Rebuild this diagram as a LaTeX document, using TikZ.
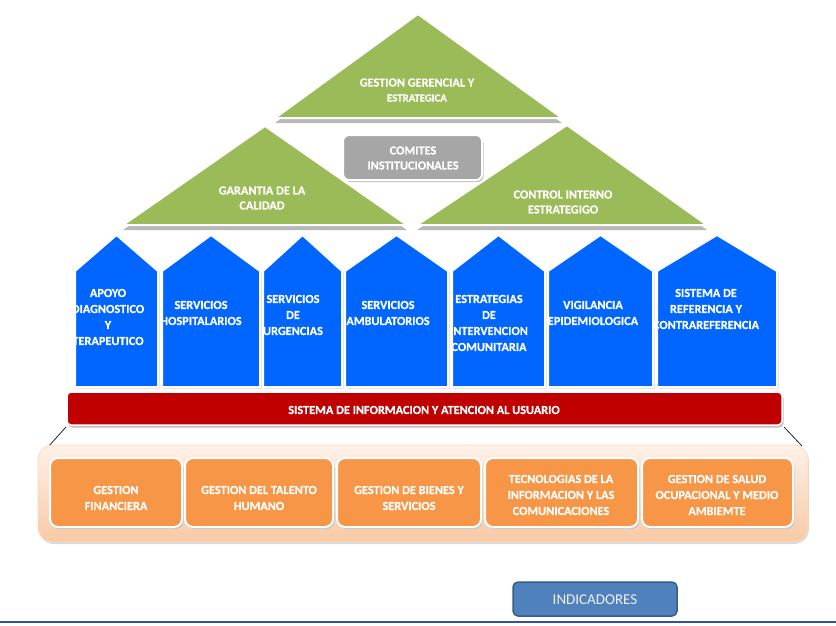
\documentclass[tikz,border=0pt]{standalone}
\usepackage{fontspec}
\setmainfont{Carlito}
\newfontfamily\calb{Carlito Bold}[FakeBold=0.4]
\usetikzlibrary{shadows}
\definecolor{gGreen}{HTML}{9BBB59}
\definecolor{bBlue}{HTML}{0066FF}
\definecolor{rRed}{HTML}{C00000}
\definecolor{oOrange}{HTML}{F79646}
\definecolor{iBlue}{HTML}{4F81BD}
\definecolor{iBorder}{HTML}{385D8A}
\definecolor{peachTop}{HTML}{FEF1E8}
\definecolor{peachBot}{HTML}{F8C9A6}
\definecolor{lineBlue}{HTML}{2F5597}
\begin{document}
\begin{tikzpicture}[x=1pt,y=-1pt,
  tri/.style={fill=gGreen, draw=white, line width=2pt, line join=miter,
    general shadow={fill=black!28, shadow yshift=-5pt}},
  pent/.style={fill=bBlue, draw=white, line width=2pt, line join=miter,
    general shadow={fill=black!18, shadow xshift=1.5pt, shadow yshift=-1.5pt}},
  gbox/.style={fill=black!35, draw=white, line width=2pt, rounded corners=6pt,
    general shadow={fill=black!25, shadow xshift=1.5pt, shadow yshift=-2pt}},
  obox/.style={fill=oOrange, draw=white, line width=2pt, rounded corners=8pt,
    general shadow={fill=black!22, shadow xshift=1.5pt, shadow yshift=-2pt}},
  txt/.style={text=white, font=\calb\fontsize{12.3}{16}\selectfont, align=center, inner sep=0pt},
  ttxt/.style={text=white, font=\calb\fontsize{12.3}{15}\selectfont, align=center, inner sep=0pt}
]
\useasboundingbox (0,0) rectangle (836,625);

% triangles
\draw[tri] (265,126) -- (407,225) -- (123,225) -- cycle;
\draw[tri] (567,125) -- (707,225) -- (417,225) -- cycle;
\draw[tri] (418,14) -- (562,118) -- (275,118) -- cycle;
\node[ttxt] (ggt) at (417,90) {GESTION GERENCIAL Y\\{\fontsize{10.8}{12}\selectfont ESTRATEGICA}};
\node[ttxt] (gct) at (262,198) {GARANTIA DE LA\\CALIDAD};
\node[ttxt] (cit) at (563,202) {CONTROL INTERNO\\ESTRATEGIGO};

% comites
\draw[gbox] (343,135) rectangle (482,180);
\node[ttxt] (com) at (413,158) {COMITES\\INSTITUCIONALES};

% pentagons
\foreach \l/\r in {75/158,162/260,263/342,345/448,452/545,548/653,657/777}{
  \draw[pent] (\l,271) -- ({(\l+\r)/2},235) -- (\r,271) -- (\r,387) -- (\l,387) -- cycle;
}
\node[txt] (p1) at (108,317) {APOYO\\DIAGNOSTICO\\Y\\TERAPEUTICO};
\node[txt] (p2) at (201,313) {SERVICIOS\\HOSPITALARIOS};
\node[txt] (p3) at (293,315) {SERVICIOS\\DE\\URGENCIAS};
\node[txt] (p4) at (388,313) {SERVICIOS\\AMBULATORIOS};
\node[txt] (p5) at (489,323) {ESTRATEGIAS\\DE\\INTERVENCION\\COMUNITARIA};
\node[txt] (p6) at (593,313) {VIGILANCIA\\EPIDEMIOLOGICA};
\node[txt] (p7) at (706,309) {SISTEMA DE\\REFERENCIA Y\\CONTRAREFERENCIA};

% red bar
\draw[fill=rRed, draw=white, line width=1.5pt, rounded corners=4pt,
  general shadow={fill=black!25, shadow xshift=1.5pt, shadow yshift=-2.5pt}]
  (67,392) rectangle (782,425);
\node[txt] (sia) at (424,410) {SISTEMA DE INFORMACION Y ATENCION AL USUARIO};

% diagonal connectors
\coordinate (dl1) at (66,427);
\coordinate (dl2) at (48,447);
\coordinate (dr1) at (784,427);
\coordinate (dr2) at (802,446);
\draw[black!85, line width=0.8pt] (dl1) -- (dl2);
\draw[black!85, line width=0.8pt] (dr1) -- (dr2);

% container
\draw[top color=peachTop, bottom color=peachBot, draw=oOrange!35, line width=0.8pt,
  rounded corners=15pt,
  general shadow={fill=black!15, shadow xshift=1pt, shadow yshift=-2pt}]
  (38,445) rectangle (808,542);

% orange boxes
\draw[obox] (50,458) rectangle (182,527);
\draw[obox] (185,458) rectangle (333,527);
\draw[obox] (337,458) rectangle (481,527);
\draw[obox] (485,458) rectangle (638,527);
\draw[obox] (642,458) rectangle (793,527);
\node[txt] (o1) at (116,498) {GESTION\\FINANCIERA};
\node[txt] (o2) at (259,498) {GESTION DEL TALENTO\\HUMANO};
\node[txt] (o3) at (409,498) {GESTION DE BIENES Y\\SERVICIOS};
\node[txt] (o4) at (561,495) {TECNOLOGIAS DE LA\\INFORMACION Y LAS\\COMUNICACIONES};
\node[txt] (o5) at (717,495) {GESTION DE SALUD\\OCUPACIONAL Y MEDIO\\AMBIEMTE};

% indicadores
\draw[fill=iBlue, draw=iBorder, line width=1.5pt, rounded corners=5pt] (513,582) rectangle (677,616);
\node[text=white!94!black, font=\fontsize{15}{17}\selectfont, inner sep=0pt] (ind) at (595,599.5) {INDICADORES};

% bottom line
\coordinate (bl1) at (0,622);
\coordinate (bl2) at (836,622);
\draw[lineBlue, line width=1.6pt] (bl1) -- (bl2);
\end{tikzpicture}
\end{document}
